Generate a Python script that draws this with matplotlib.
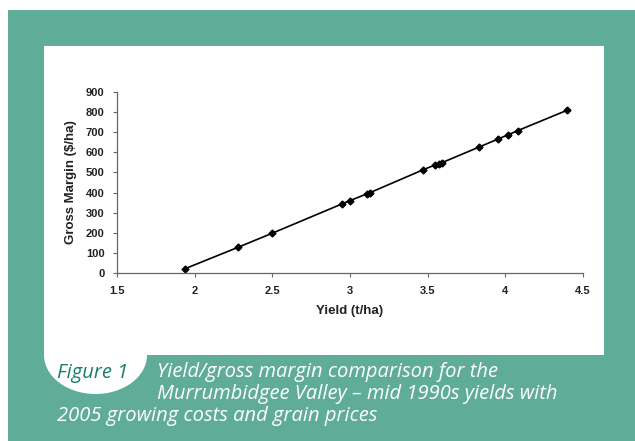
import matplotlib
matplotlib.use("Agg")
import matplotlib.pyplot as plt
from matplotlib.patches import Rectangle, Ellipse

# yield (t/ha) vs gross margin ($/ha)
yield_t = [1.94, 2.28, 2.50, 2.95, 3.00, 3.11, 3.13, 3.47, 3.55, 3.57, 3.59,
           3.83, 3.95, 4.02, 4.08, 4.40]
margin = [22, 128, 198, 344, 360, 394, 400, 513, 538, 543, 548,
          626, 665, 688, 708, 810]

x_ticks = [1.5, 2, 2.5, 3, 3.5, 4, 4.5]
x_labels = ["1.5", "2", "2.5", "3", "3.5", "4", "4.5"]
y_ticks = [0, 100, 200, 300, 400, 500, 600, 700, 800, 900]

caption_tag = "Figure 1"
caption_lines = ["Yield/gross margin comparison for the",
                 "Murrumbidgee Valley \u2013 mid 1990s yields with",
                 "2005 growing costs and grain prices"]

teal = "#5fac98"
W, H = 635, 441

fig = plt.figure(figsize=(W / 100, H / 100), dpi=100)
fig.patch.set_facecolor("white")

# background panels, in pixel units of the figure
bg = fig.add_axes([0, 0, 1, 1])
bg.set_xlim(0, W)
bg.set_ylim(H, 0)
bg.axis("off")
bg.add_patch(Rectangle((8, 10), W - 8, H - 10, color=teal, lw=0))
bg.add_patch(Rectangle((44, 46), 560, 309, color="white", lw=0))
bg.add_patch(Ellipse((95.5, 355), 103, 78, color="white", lw=0))

cap = dict(fontsize=14.5, style="italic", family="Open Sans",
           va="center", ha="left")
bg.text(57, 373, caption_tag, color="#17806a", **cap)
bg.text(157, 372, caption_lines[0], color="white", **cap)
bg.text(157, 394, caption_lines[1], color="white", **cap)
bg.text(57, 416, caption_lines[2], color="white", **cap)

ax = fig.add_axes([117 / W, 1 - 273 / H, 466 / W, 181 / H])
ax.set_facecolor("none")
ax.plot(yield_t, margin, color="black", lw=1.2, marker="D", ms=3.5,
        markerfacecolor="black", markeredgecolor="black")
ax.set_xlim(1.5, 4.5)
ax.set_ylim(0, 900)
ax.set_xticks(x_ticks)
ax.set_xticklabels(x_labels)
ax.set_yticks(y_ticks)
for s in ["top", "right"]:
    ax.spines[s].set_visible(False)
for s in ["left", "bottom"]:
    ax.spines[s].set_color("#666666")
    ax.spines[s].set_linewidth(0.9)
ax.tick_params(direction="out", length=3, width=0.8, color="#666666",
               labelsize=8, pad=6)
for lab in ax.get_xticklabels() + ax.get_yticklabels():
    lab.set_family("Liberation Sans")
    lab.set_fontweight("bold")
    lab.set_color("#222222")
ax.set_xlabel("Yield (t/ha)", family="Liberation Sans", fontweight="bold",
              fontsize=9.5, color="#222222", labelpad=7)
ax.set_ylabel("Gross Margin ($/ha)", family="Liberation Sans", fontweight="bold",
              fontsize=9.5, color="#222222", labelpad=6)

fig.savefig("out.png", dpi=100)
